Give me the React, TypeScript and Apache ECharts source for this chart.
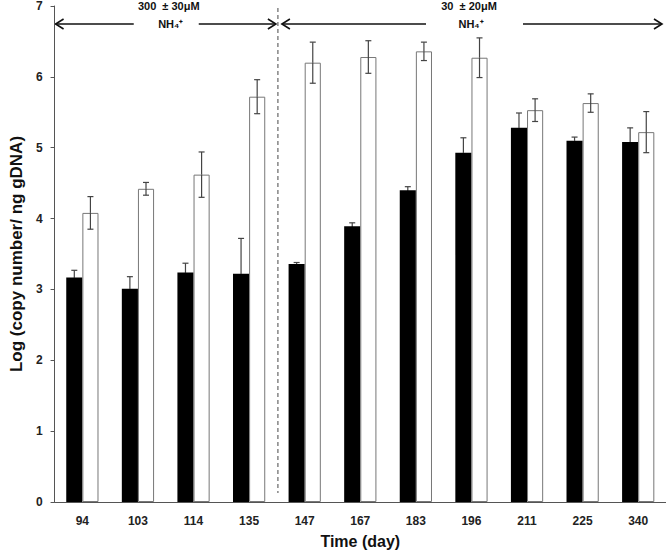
import React, { useEffect, useRef } from "react";
import * as echarts from "echarts";

const categories = ["94", "103", "114", "135", "147", "167", "183", "196", "211", "225", "340"];
const blackValues = [3.17, 3.01, 3.24, 3.22, 3.36, 3.89, 4.4, 4.93, 5.28, 5.1, 5.08];
const blackErrors = [0.1, 0.17, 0.13, 0.5, 0.02, 0.05, 0.05, 0.21, 0.21, 0.05, 0.2];
const whiteValues = [4.08, 4.42, 4.62, 5.72, 6.2, 6.28, 6.36, 6.27, 5.53, 5.63, 5.22];
const whiteErrors = [0.23, 0.09, 0.32, 0.24, 0.29, 0.23, 0.13, 0.28, 0.16, 0.13, 0.29];
const yTicks = { min: 0, max: 7, interval: 1 };
const periodLabels = ["300  \u00B1 30\u03BCM", "30  \u00B1 20\u03BCM"];
const periodSplitAfter = 3; // boundary between "135" and "147"

const FONT = "Liberation Sans, Arial, sans-serif";
const BAR_FRAC = 0.29;

export default function App() {
  const ref = useRef<HTMLDivElement>(null);
  useEffect(() => {
    if (!ref.current) return;
    const chart = echarts.init(ref.current, undefined, { renderer: "svg" });
    const errData = [
      ...blackValues.map((v, i) => [i, v, blackErrors[i], -1]),
      ...whiteValues.map((v, i) => [i, v, whiteErrors[i], 1]),
    ];
    chart.setOption({
      animation: false,
      grid: { left: 52, right: -2, top: 2, bottom: 52, containLabel: false },
      xAxis: {
        type: "category",
        data: categories,
        axisTick: { show: false },
        axisLine: { lineStyle: { color: "#555", width: 1 } },
        axisLabel: { fontFamily: FONT, fontWeight: "bold", fontSize: 12, color: "#222", margin: 13 },
        name: "Time (day)",
        nameLocation: "middle",
        nameGap: 31,
        nameTextStyle: { fontFamily: FONT, fontWeight: "bold", fontSize: 16, color: "#111" },
      },
      yAxis: {
        type: "value",
        min: yTicks.min,
        max: yTicks.max,
        interval: yTicks.interval,
        splitLine: { show: false },
        axisLine: { show: true, lineStyle: { color: "#555", width: 1 } },
        axisTick: { show: true, length: 4, lineStyle: { color: "#555" } },
        axisLabel: { fontFamily: FONT, fontWeight: "bold", fontSize: 12, color: "#222", margin: 12 },
        name: "Log (copy number/ ng gDNA)",
        nameLocation: "middle",
        nameGap: 27,
        nameTextStyle: { fontFamily: FONT, fontWeight: "bold", fontSize: 17, color: "#111" },
      },
      series: [
        {
          type: "bar",
          data: blackValues,
          barWidth: BAR_FRAC * 100 + "%",
          barGap: "0%",
          itemStyle: { color: "#000" },
        },
        {
          type: "bar",
          data: whiteValues,
          barWidth: BAR_FRAC * 100 + "%",
          barGap: "0%",
          itemStyle: { color: "#fff", borderColor: "#777", borderWidth: 1 },
        },
        {
          type: "custom",
          data: errData,
          encode: { x: 0, y: 1 },
          z: 10,
          renderItem: (params: any, api: any) => {
            const idx = api.value(0);
            const v = api.value(1);
            const e = api.value(2);
            const side = api.value(3);
            const band = api.size([1, 0])[0];
            const off = (side * band * BAR_FRAC) / 2;
            const top = api.coord([idx, v + e]);
            const mid = api.coord([idx, v]);
            const bot = api.coord([idx, v - e]);
            const x = top[0] + off;
            const cap = 3;
            const upColor = "#444";
            const downColor = side < 0 ? "#000" : "#444";
            const lw = 1.2;
            return {
              type: "group",
              children: [
                { type: "line", shape: { x1: x, y1: top[1], x2: x, y2: mid[1] }, style: { stroke: upColor, lineWidth: lw } },
                { type: "line", shape: { x1: x, y1: mid[1], x2: x, y2: bot[1] }, style: { stroke: downColor, lineWidth: lw } },
                { type: "line", shape: { x1: x - cap, y1: top[1], x2: x + cap, y2: top[1] }, style: { stroke: upColor, lineWidth: lw } },
                { type: "line", shape: { x1: x - cap, y1: bot[1], x2: x + cap, y2: bot[1] }, style: { stroke: downColor, lineWidth: lw } },
              ],
            };
          },
        },
      ],
    });

    // annotations positioned from the axes
    const c0 = chart.convertToPixel({ xAxisIndex: 0 }, 0) as number;
    const c1 = chart.convertToPixel({ xAxisIndex: 0 }, 1) as number;
    const band = c1 - c0;
    const xLeft = c0 - band / 2;
    const xRight = Math.min(c0 + band * (categories.length - 0.5) - 4, 663);
    const xSplit = c0 + band * (periodSplitAfter + 0.5);
    const yTop = chart.convertToPixel({ yAxisIndex: 0 }, yTicks.max) as number;
    const yBot = chart.convertToPixel({ yAxisIndex: 0 }, yTicks.min) as number;
    const ay = 24;
    const stroke = { stroke: "#111", lineWidth: 1.6 };
    const head = (x: number, dir: number) => ({
      type: "polyline",
      shape: { points: [[x - dir * 8, ay - 5], [x, ay], [x - dir * 8, ay + 5]] },
      style: { ...stroke, fill: "none" },
    });
    const seg = (x1: number, x2: number) => ({ type: "line", shape: { x1, y1: ay, x2, y2: ay }, style: stroke });
    const label = (cx: number, t: string) => [
      { type: "text", x: cx, y: 6, style: { text: t, fontFamily: FONT, fontWeight: "bold", fontSize: 11, fill: "#111", align: "center", verticalAlign: "middle" } },
      { type: "text", x: cx + 2, y: 24, style: { text: "NH\u2084\u207A", fontFamily: FONT, fontWeight: "bold", fontSize: 11, fill: "#111", align: "center", verticalAlign: "middle" } },
    ];
    const l1 = (xLeft + xSplit) / 2 + 3;
    const l2 = 469;
    chart.setOption({
      graphic: [
        { type: "line", shape: { x1: xSplit + 1, y1: yTop + 2, x2: xSplit + 1, y2: yBot - 9 }, style: { stroke: "#666", lineWidth: 1.2, lineDash: [4, 3] } },
        seg(xLeft + 1, l1 - 35), seg(l1 + 30, xSplit - 1), head(xLeft + 1, -1), head(xSplit - 1, 1),
        seg(xSplit + 5, l2 - 43), seg(l2 + 54, xRight), head(xSplit + 5, -1), head(xRight, 1),
        ...label(l1, periodLabels[0]),
        ...label(l2, periodLabels[1]),
      ],
    });
    return () => chart.dispose();
  }, []);
  return <div ref={ref} style={{ width: 666, height: 554, position: "absolute", left: 0, top: 0 }} />;
}
